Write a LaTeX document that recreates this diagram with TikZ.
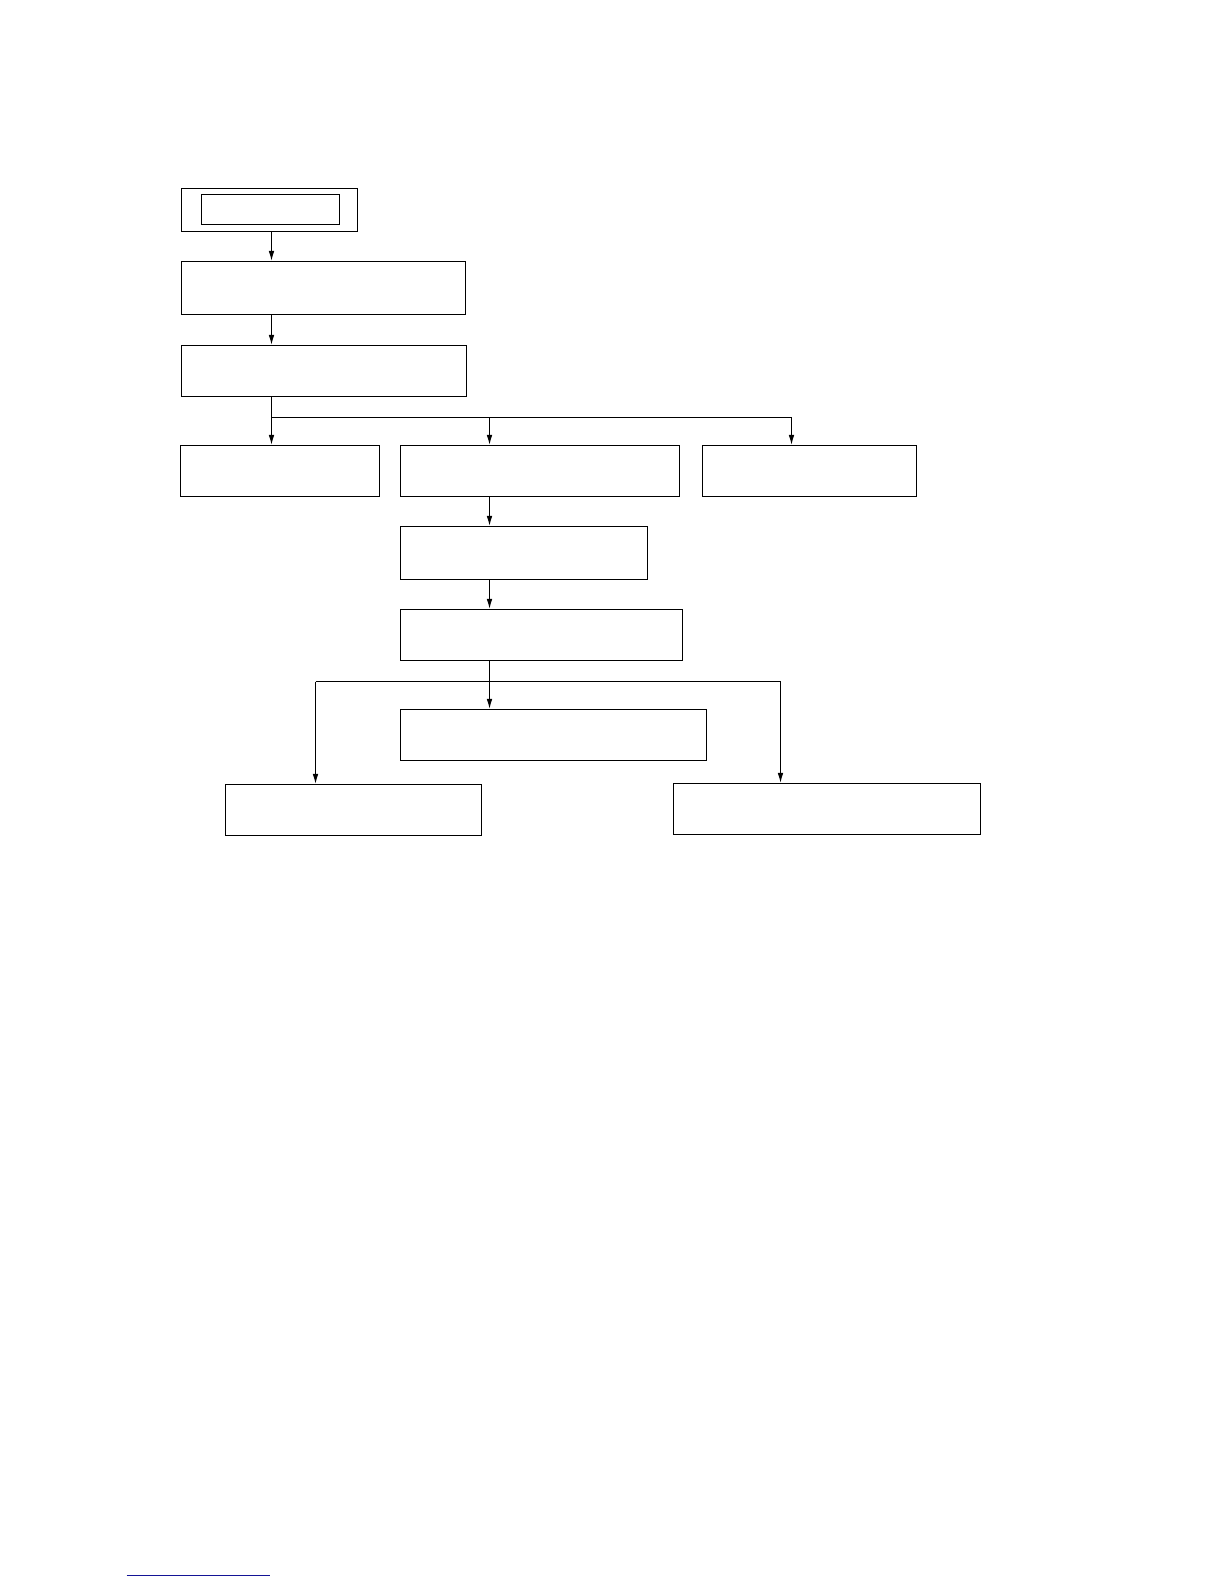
\documentclass[tikz,border=0pt]{standalone}
\usetikzlibrary{fit,arrows.meta}
\begin{document}
\begin{tikzpicture}[x=0.5pt,y=-0.5pt,
  box/.style={draw=black,line width=0.55pt,inner sep=0pt,fill=none},
  arr/.style={draw=black,line width=0.55pt,-{Latex[length=5pt,width=2.8pt]}},
  link/.style={draw=black,line width=0.55pt}]
\useasboundingbox (0,0) rectangle (1224,1584);
% boxes
\node[box,fit={(181.5,188.5)(357.5,231.5)}] (top) {};
\node[box,fit={(201.5,194.5)(339.5,224.5)}] (topin) {};
\node[box,fit={(181.5,261.5)(465.5,314.5)}] (b2) {};
\node[box,fit={(181.5,345.5)(466.5,396.5)}] (b3) {};
\node[box,fit={(180.5,445.5)(379.5,496.5)}] (ba) {};
\node[box,fit={(400.5,445.5)(679.5,496.5)}] (bb) {};
\node[box,fit={(702.5,445.5)(916.5,496.5)}] (bc) {};
\node[box,fit={(400.5,526.5)(647.5,579.5)}] (bd) {};
\node[box,fit={(400.5,609.5)(682.5,660.5)}] (be) {};
\node[box,fit={(400.5,709.5)(706.5,760.5)}] (bf) {};
\node[box,fit={(225.5,784.5)(481.5,835.5)}] (bg) {};
\node[box,fit={(673.5,783.5)(980.5,834.5)}] (bh) {};
% column coordinates
\coordinate (c1) at (271.5,417.5);
\coordinate (c2) at (489.5,417.5);
\coordinate (c3) at (791.5,417.5);
\coordinate (d0) at (489.5,681.5);
\coordinate (d1) at (315.5,681.5);
\coordinate (d2) at (780.5,681.5);
% connectors
\draw[arr] (top.south -| c1) -- (b2.north -| c1);
\draw[arr] (b2.south -| c1) -- (b3.north -| c1);
\draw[link] (b3.south -| c1) -- (c1) -- (c3);
\draw[arr] (c1) -- (ba.north -| c1);
\draw[arr] (c2) -- (bb.north -| c2);
\draw[arr] (c3) -- (bc.north -| c3);
\draw[arr] (bb.south -| c2) -- (bd.north -| c2);
\draw[arr] (bd.south -| c2) -- (be.north -| c2);
\draw[link] (be.south -| d0) -- (d0);
\draw[link] (d1) -- (d2);
\draw[arr] (d0) -- (bf.north -| d0);
\draw[arr] (d1) -- (bg.north -| d1);
\draw[arr] (d2) -- (bh.north -| d2);
% underline at page bottom
\draw[color={rgb,255:red,20;green,20;blue,150},line width=0.55pt] (126.5,1575.5) -- (269.5,1575.5);
\end{tikzpicture}
\end{document}
